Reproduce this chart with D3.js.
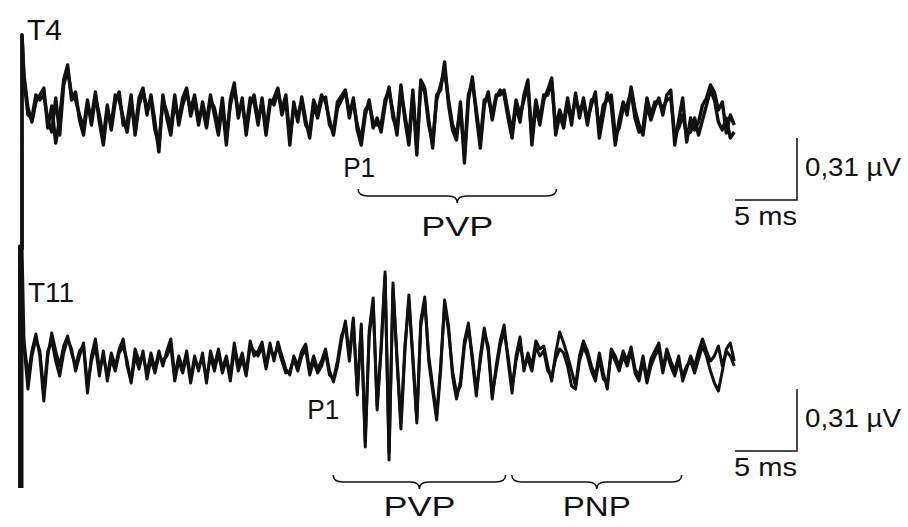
<!DOCTYPE html>
<html lang="en">
  <head>
    <meta charset="utf-8">
    <title>T4 / T11 averaged traces</title>
    <script src="https://cdn.jsdelivr.net/npm/d3@7/dist/d3.min.js"></script>
    <style>
      body { margin: 0; background: #fff; }
      text { font-family: 'Liberation Sans', Arial, Helvetica, sans-serif; fill: #111; }
    </style>
  </head>
  <body>
    <div id='chart'></div>

    <script type='text/javascript'>
      // sampling of the traces (ms)
      let sampleStart = 0.16
      let sampleStep = 0.32

      // amplitudes in nV, two superimposed averages per lead
      let t4A = [
        175, 10, -60, 40, 75, 110, -90, 20, -165, -40,
        150, 225, 50, 90, -50, -125, 25, -40, 90, -60,
        -175, 0, -75, 75, 50, -40, -110, 40, -100, 60,
        110, -25, 75, -60, -210, 75, -40, -125, 40, -50,
        60, 110, -30, 50, -75, 40, -60, 75, -25, -125,
        25, -175, 50, 135, -40, 60, -125, 25, 75, -50,
        40, -125, 25, 60, 110, -25, 50, -175, 40, -60,
        65, -50, -140, 25, -40, 50, 65, -75, -110, 40,
        70, 100, -40, 60, -100, -175, -25, 50, -90, -40,
        -110, 25, 115, -40, -100, 125, -50, -175, 75, -225,
        150, 110, -50, -190, 75, 100, 240, 25, -100, -150,
        40, -265, 50, 165, -25, -190, 25, 90, -50, 60,
        100, 75, -40, -140, 25, -60, 75, 150, -175, 25,
        -75, 50, 100, 160, -125, -25, -90, 40, -75, 85,
        -40, 60, -50, 25, 90, -140, -25, 85, 25, -175,
        -50, 40, -25, 115, 0, -75, -125, 25, -50, 15,
        60, -25, 75, 100, -175, -50, 60, -160, -40, -100,
        -60, 25, 60, 125, 90, 0, 40, -115, -25, -75
      ]
      let t4B = [
        150, -25, -40, 75, 50, 75, -50, -110, 60, -125,
        125, 200, 75, 50, -25, -90, 50, -75, 60, -25,
        -140, 25, -100, 40, 90, -75, -60, 75, -125, 25,
        90, 10, 50, -100, -175, 50, -10, -90, 75, -75,
        25, 90, 0, 75, -50, 10, -90, 50, 10, -90,
        60, -140, 25, 110, -10, 25, -90, 60, 40, -75,
        60, -100, 50, 25, 90, 0, 75, -140, 10, -25,
        40, -75, -110, 50, -10, 75, 40, -50, -125, 10,
        50, 90, -10, 40, -75, -150, 0, 25, -60, -75,
        -75, 50, 100, -10, -125, 90, -25, -150, 100, -190,
        125, 90, -75, -160, 50, 125, 200, 50, -75, -125,
        10, -225, 75, 140, 0, -160, 50, 60, -25, 75,
        75, 100, -10, -110, 50, -25, 50, 125, -140, 50,
        -50, 75, 75, 140, -90, 0, -60, 60, -50, 60,
        -10, 40, -75, 50, 60, -100, 25, 50, 75, -125,
        -90, 10, 25, 90, -40, -110, -90, 60, -25, 40,
        40, 10, 50, 60, -125, -90, -25, -125, -110, -40,
        -125, -50, 25, 100, 50, -60, -100, -40, -140, -110
      ]
      let t11A = [
        100, -75, 50, 135, 25, -200, 25, 140, 50, -25,
        75, 125, 40, -25, 50, 75, -160, 25, 110, -40,
        25, -75, 40, -25, 60, 110, -25, -100, 60, 0,
        25, -60, 40, -40, 50, -25, 50, 110, -75, 25,
        -40, 50, -90, 25, -50, 40, -110, 50, -25, 60,
        -40, 25, -75, 90, -25, 40, -60, 100, 25, 50,
        95, -25, 90, 0, 95, 25, -40, -70, 25, -25,
        50, 85, -50, 25, -40, 0, 60, -50, -105, -25,
        100, 200, 25, 215, -170, 185, -430, 150, 315, -245,
        75, 445, -495, 390, 0, -340, 50, 330, 0, -310,
        200, 320, 0, -150, -295, -50, 305, 175, -75, -190,
        -100, 100, 190, 0, -175, 25, 165, 50, -190, -25,
        100, 180, 0, -160, 25, 120, -50, 40, -25, 100,
        60, 75, -25, -100, 40, 145, 90, 25, -50, -125,
        25, 100, 50, -25, -75, 40, -60, -140, 60, 25,
        -25, 50, 0, 70, -40, -75, 25, -90, 10, 50,
        90, -40, 60, 0, -50, 25, -100, -40, 25, -25,
        50, 110, 50, 0, 25, 75, -25, 50, 25, -25
      ]
      let t11B = [
        75, -140, 25, 110, 50, -160, 50, 100, 0, -75,
        40, 110, 60, -50, 25, 90, -125, 0, 75, -75,
        50, -100, 10, -50, 40, 75, 0, -110, 25, -40,
        50, -90, 10, -60, 25, 0, 25, 75, -100, 0,
        -60, 25, -110, 0, -25, 10, -90, 25, -50, 40,
        -60, 10, -100, 60, -50, 10, -75, 75, 50, 25,
        70, -40, 60, 25, 70, 0, -60, -50, 10, -50,
        25, 60, -70, 0, -60, -25, 40, -70, -90, 0,
        125, 180, 0, 200, -150, 160, -400, 125, 290, -225,
        50, 425, -460, 360, 25, -310, 75, 300, 25, -290,
        175, 300, 25, -125, -275, -25, 280, 150, -50, -160,
        -125, 75, 165, 25, -150, 0, 140, 75, -165, -50,
        75, 150, 25, -130, 0, 90, -25, 10, -50, 70,
        25, 50, -50, -75, 10, 60, 40, -25, -125, -140,
        0, 70, 25, -50, -100, 10, -90, -110, 40, 0,
        -50, 25, -25, 50, -60, -100, 0, -110, -25, 25,
        60, -60, 40, -25, -75, 0, -75, -25, 0, -60,
        10, 75, 25, -50, -110, -150, -50, 60, 90, 0
      ]

      // stimulus artifact at t = 0 (min, max in nV) and its time per replicate
      let artifactT4 = [-700, 375]
      let artifactT11 = [-635, 575]
      let artifactTimes = [0, -0.2]

      // brackets [start ms, end ms, label]
      let bracketsT4 = [[27.1, 43.1, 'PVP']]
      let bracketsT11 = [[25.1, 39.0, 'PVP'], [39.5, 53.2, 'PNP']]
      let p1T4 = 25.9
      let p1T11 = 23.0

      // calibration: 5 ms, 0.31 µV
      let calTime = [57.5, 62.5]
      let calAmp = [-450, -140]

      let width = 908
      let height = 527
      let svg = d3.select('#chart').append('svg')
        .attr('width', width)
        .attr('height', height)

      let x = d3.scaleLinear()
        .domain([0, 5])
        .range([22, 84])
      let yT4 = d3.scaleLinear()
        .domain([0, 310])
        .range([110, 48])
      let yT11 = d3.scaleLinear()
        .domain([0, 310])
        .range([361, 299])

      function drawLead(values, artifact, artT, y, sw) {
        let pts = [[artT, artifact[0]], [artT, artifact[1]]]
        values.forEach((v, i) => pts.push([sampleStart + i * sampleStep, v]))
        let line = d3.line()
          .x((d) => x(d[0]))
          .y((d) => y(d[1]))
        svg.append('path')
          .attr('d', line(pts))
          .attr('fill', 'none')
          .attr('stroke', '#111')
          .attr('stroke-width', sw)
          .attr('stroke-linejoin', 'round')
      }

      drawLead(t4A, artifactT4, artifactTimes[0], yT4, 3.4)
      drawLead(t4B, artifactT4, artifactTimes[0], yT4, 3.4)
      drawLead(t11A, artifactT11, artifactTimes[0], yT11, 3)
      drawLead(t11B, artifactT11, artifactTimes[1], yT11, 3)

      function label(txt, lx, ly, anchor, size, w) {
        let t = svg.append('text')
          .attr('x', lx)
          .attr('y', ly)
          .attr('text-anchor', anchor)
          .attr('font-size', size + 'px')
          .text(txt)
        if (w) {
          t.attr('textLength', w)
           .attr('lengthAdjust', 'spacingAndGlyphs')
        }
      }

      // curly braces under the traces
      function brace(b, yLevel) {
        let x1 = x(b[0]), x2 = x(b[1]), xm = (x1 + x2) / 2
        let p = d3.path()
        p.moveTo(x1, yLevel - 7)
        p.quadraticCurveTo(x1, yLevel, x1 + 10, yLevel)
        p.lineTo(xm - 9, yLevel)
        p.quadraticCurveTo(xm, yLevel, xm, yLevel + 7)
        p.quadraticCurveTo(xm, yLevel, xm + 9, yLevel)
        p.lineTo(x2 - 10, yLevel)
        p.quadraticCurveTo(x2, yLevel, x2, yLevel - 7)
        svg.append('path')
          .attr('d', p.toString())
          .attr('fill', 'none')
          .attr('stroke', '#111')
          .attr('stroke-width', 1.5)
        return xm
      }

      bracketsT4.forEach((b) => {
        let xm = brace(b, 196)
        label(b[2], xm, 236, 'middle', 27, 72)
      })
      bracketsT11.forEach((b, i) => {
        let xm = brace(b, 482)
        label(b[2], xm, 516, 'middle', 27, i == 0 ? 72 : 68)
      })

      label('T4', 27, 40, 'start', 30)
      label('T11', 28, 302, 'start', 28)
      label('P1', x(p1T4), 177, 'start', 27, 32)
      label('P1', x(p1T11), 419, 'start', 27, 32)

      // calibration bars
      function calBar(y, textY) {
        svg.append('path')
          .attr('d', 'M' + x(calTime[0]) + ',' + y(calAmp[0]) +
                     'H' + x(calTime[1]) + 'V' + y(calAmp[1]))
          .attr('fill', 'none')
          .attr('stroke', '#111')
          .attr('stroke-width', 1.5)
        label('0,31 \u00b5V', x(calTime[1]) + 8, textY, 'start', 25, 96)
        label('5 ms', x(calTime[0]) - 1, y(calAmp[0]) + 25, 'start', 25, 63)
      }
      calBar(yT4, 176)
      calBar(yT11, 427)
    </script>
  </body>
</html>
